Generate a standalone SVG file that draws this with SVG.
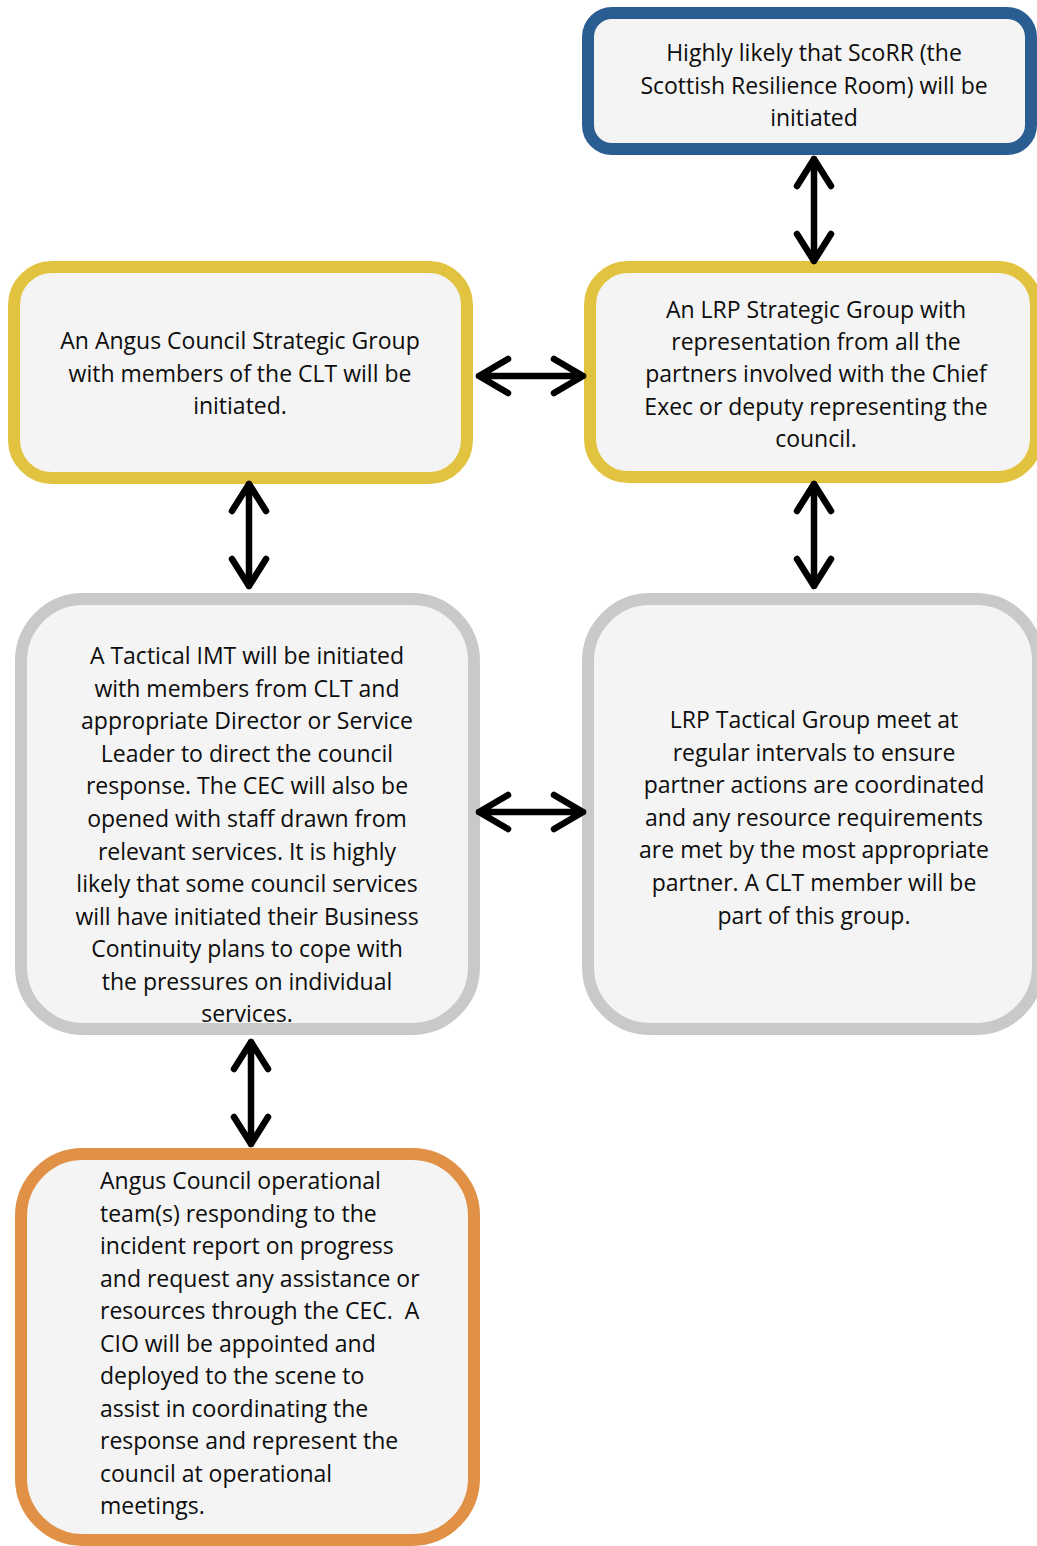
<svg xmlns="http://www.w3.org/2000/svg" width="1037" height="1546" viewBox="0 0 1037 1546">
<style>
.box{fill:#f4f4f4;stroke-width:12}
.blue{stroke:#2a5e93}
.yellow{stroke:#e2c340}
.gray{stroke:#c9c9c9}
.orange{stroke:#e09146}
text{font-family:"Open Sans","Noto Sans",sans-serif;font-size:23px;fill:#0d0d0d}
.c{text-anchor:middle}
.conn path{fill:none;stroke:#000;stroke-width:6.5;stroke-linecap:round;stroke-linejoin:round}
</style>
<rect width="1037" height="1546" fill="#fff"/>
<g id="scorr">
<rect class="box blue" x="588" y="13" width="443" height="136" rx="24"/>
<text class="c"><tspan x="814" y="61">Highly likely that ScoRR (the</tspan><tspan x="814" y="94">Scottish Resilience Room) will be</tspan><tspan x="814" y="126">initiated</tspan></text>
</g>
<g id="angus-strategic">
<rect class="box yellow" x="14" y="267" width="453" height="211" rx="38"/>
<text class="c"><tspan x="240" y="349">An Angus Council Strategic Group</tspan><tspan x="240" y="382">with members of the CLT will be</tspan><tspan x="240" y="414">initiated.</tspan></text>
</g>
<g id="lrp-strategic">
<rect class="box yellow" x="590" y="267" width="446" height="210" rx="38"/>
<text class="c"><tspan x="816" y="318">An LRP Strategic Group with</tspan><tspan x="816" y="350">representation from all the</tspan><tspan x="816" y="382">partners involved with the Chief</tspan><tspan x="816" y="415">Exec or deputy representing the</tspan><tspan x="816" y="447">council.</tspan></text>
</g>
<g id="tactical-imt">
<rect class="box gray" x="21" y="599" width="453" height="430" rx="62"/>
<text class="c"><tspan x="247" y="664">A Tactical IMT will be initiated</tspan><tspan x="247" y="696.6">with members from CLT and</tspan><tspan x="247" y="729.2">appropriate Director or Service</tspan><tspan x="247" y="761.8">Leader to direct the council</tspan><tspan x="247" y="794.4">response. The CEC will also be</tspan><tspan x="247" y="827">opened with staff drawn from</tspan><tspan x="247" y="859.6">relevant services. It is highly</tspan><tspan x="247" y="892.2">likely that some council services</tspan><tspan x="247" y="924.8">will have initiated their Business</tspan><tspan x="247" y="957.4">Continuity plans to cope with</tspan><tspan x="247" y="990">the pressures on individual</tspan><tspan x="247" y="1022">services.</tspan></text>
</g>
<g id="lrp-tactical">
<rect class="box gray" x="588" y="599" width="450" height="430" rx="62"/>
<text class="c"><tspan x="814" y="728">LRP Tactical Group meet at</tspan><tspan x="814" y="760.6">regular intervals to ensure</tspan><tspan x="814" y="793.2">partner actions are coordinated</tspan><tspan x="814" y="825.8">and any resource requirements</tspan><tspan x="814" y="858.4">are met by the most appropriate</tspan><tspan x="814" y="891">partner. A CLT member will be</tspan><tspan x="814" y="923.6">part of this group.</tspan></text>
</g>
<g id="operational">
<rect class="box orange" x="21" y="1154" width="453" height="386" rx="62"/>
<text><tspan x="100" y="1189">Angus Council operational</tspan><tspan x="100" y="1221.5">team(s) responding to the</tspan><tspan x="100" y="1254">incident report on progress</tspan><tspan x="100" y="1286.5">and request any assistance or</tspan><tspan x="100" y="1319" xml:space="preserve">resources through the CEC.  A</tspan><tspan x="100" y="1351.5">CIO will be appointed and</tspan><tspan x="100" y="1384">deployed to the scene to</tspan><tspan x="100" y="1416.5">assist in coordinating the</tspan><tspan x="100" y="1449">response and represent the</tspan><tspan x="100" y="1481.5">council at operational</tspan><tspan x="100" y="1514">meetings.</tspan></text>
</g>
<g class="conn" id="connectors">
<path d="M814 159V261M797 186L814 159L831 186M797 234L814 261L831 234"/>
<path d="M479 376H583M508 359L479 376L508 393M554 359L583 376L554 393"/>
<path d="M814 484V586M797 511L814 484L831 511M797 559L814 586L831 559"/>
<path d="M249 484V586M232 511L249 484L266 511M232 559L249 586L266 559"/>
<path d="M479 812H583M508 795L479 812L508 829M554 795L583 812L554 829"/>
<path d="M251 1042V1144M234 1069L251 1042L268 1069M234 1117L251 1144L268 1117"/>
</g>
</svg>
